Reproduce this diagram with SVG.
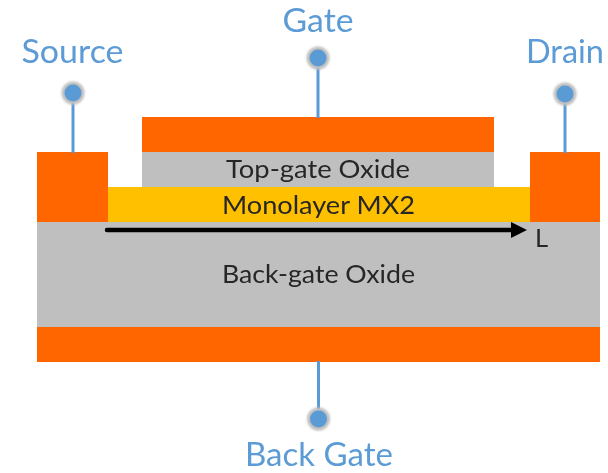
<svg xmlns="http://www.w3.org/2000/svg" width="608" height="473" viewBox="0 0 608 473">
<defs>
<style>
.o{fill:#ff6600}.g{fill:#bfbfbf}.y{fill:#ffc000}
.t{font-family:"Lato","Carlito","Liberation Sans",sans-serif}
.l{fill:#5b9bd5;font-size:32px;filter:url(#b)}
.d{fill:#262626;font-size:25.500px;filter:url(#b)}
.c{stroke:#5b9bd5;stroke-width:3;fill:none}
.h{fill:#bfbfbf;filter:url(#b2)}.p{fill:#5b9bd5}
</style>
<filter id="b" x="-5%" y="-20%" width="110%" height="140%"><feGaussianBlur stdDeviation="0.6"/></filter>
<filter id="b2" x="-30%" y="-30%" width="160%" height="160%"><feGaussianBlur stdDeviation="1"/></filter>
<marker id="a" markerUnits="userSpaceOnUse" markerWidth="18" markerHeight="18" refX="7" refY="9" orient="auto"><path d="M0 1L16 9L0 17Z" fill="#000"/></marker>
</defs>
<rect width="608" height="473" fill="#fff"/>
<g id="back-gate-oxide"><rect class="g" x="37" y="222" width="563" height="105"/><text class="t d" x="318.500" y="283" text-anchor="middle" textLength="193" lengthAdjust="spacingAndGlyphs">Back-gate Oxide</text></g>
<g id="back-gate-electrode"><rect class="o" x="37" y="327" width="563" height="35"/></g>
<g id="monolayer"><rect class="y" x="107" y="187" width="423" height="35"/><text class="t d" x="318.500" y="214" text-anchor="middle" textLength="193" lengthAdjust="spacingAndGlyphs">Monolayer MX2</text></g>
<g id="top-gate-oxide"><rect class="g" x="142" y="152" width="352" height="35"/><text class="t d" x="318" y="178" text-anchor="middle" textLength="184" lengthAdjust="spacingAndGlyphs">Top-gate Oxide</text></g>
<g id="top-gate-electrode"><rect class="o" x="142" y="117" width="352" height="35"/></g>
<g id="source-electrode"><rect class="o" x="37" y="152" width="71" height="70"/></g>
<g id="drain-electrode"><rect class="o" x="530" y="152" width="70" height="70"/></g>
<g id="connectors">
<line class="c" x1="73" y1="100" x2="73" y2="153"/>
<line class="c" x1="318" y1="65" x2="318" y2="118"/>
<line class="c" x1="565" y1="100" x2="565" y2="153"/>
<line class="c" x1="318.500" y1="361" x2="318.500" y2="412"/>
<line x1="107" y1="230" x2="518" y2="230" stroke="#000" stroke-width="4.500" stroke-linecap="round" marker-end="url(#a)"/>
</g>
<g id="source"><circle class="h" cx="73" cy="93" r="11.500"/><circle class="p" cx="73" cy="93" r="8.500"/><text class="t l" x="72.500" y="63" text-anchor="middle" textLength="102" lengthAdjust="spacingAndGlyphs">Source</text></g>
<g id="gate"><circle class="h" cx="318" cy="58" r="11.500"/><circle class="p" cx="318" cy="58" r="8.500"/><text class="t l" x="318" y="32" text-anchor="middle" textLength="71" lengthAdjust="spacingAndGlyphs">Gate</text></g>
<g id="drain"><circle class="h" cx="565" cy="94" r="11.500"/><circle class="p" cx="565" cy="94" r="8.500"/><text class="t l" x="565" y="63" text-anchor="middle" textLength="78" lengthAdjust="spacingAndGlyphs">Drain</text></g>
<g id="back-gate"><circle class="h" cx="318.500" cy="419" r="11.500"/><circle class="p" cx="318.500" cy="419" r="8.500"/><text class="t l" x="319" y="466" text-anchor="middle" textLength="148" lengthAdjust="spacingAndGlyphs">Back Gate</text></g>
<text class="t d" x="535" y="247">L</text>
</svg>
